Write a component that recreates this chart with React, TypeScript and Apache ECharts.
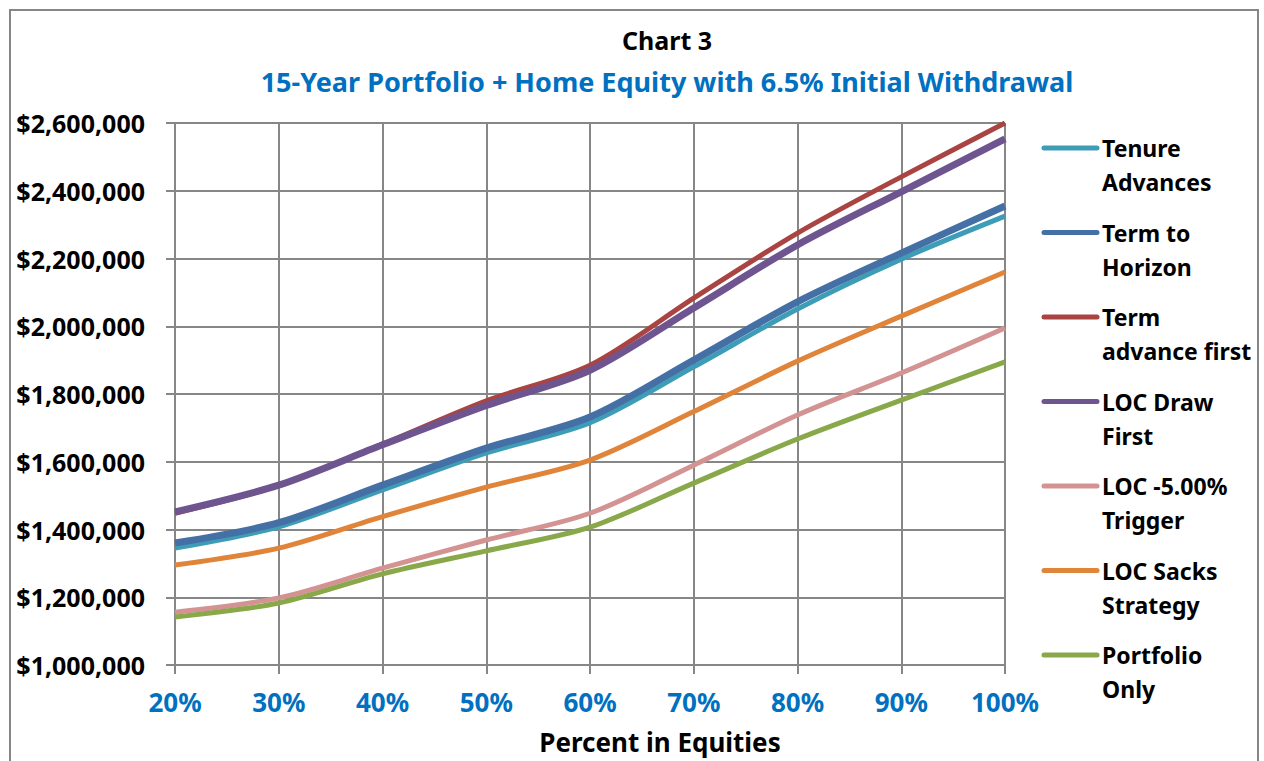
import React, { useEffect, useRef } from "react";
import * as echarts from "echarts";

const categories = ["20%", "30%", "40%", "50%", "60%", "70%", "80%", "90%", "100%"];
const yTicks = [1000000, 2600000, 200000];

const tenureAdvances = [1345000, 1408000, 1517000, 1626000, 1715000, 1880000, 2051000, 2198000, 2325000];
const termToHorizon = [1360000, 1420000, 1531000, 1640000, 1732000, 1900000, 2072000, 2216000, 2355000];
const termAdvanceFirst = [1448000, 1530000, 1652000, 1780000, 1885000, 2083000, 2275000, 2441000, 2600000];
const locDrawFirst = [1452000, 1531000, 1650000, 1766000, 1870000, 2054000, 2240000, 2397000, 2553000];
const locTrigger = [1156000, 1198000, 1286000, 1369000, 1448000, 1590000, 1738000, 1862000, 1995000];
const locSacks = [1295000, 1345000, 1438000, 1525000, 1605000, 1748000, 1897000, 2030000, 2160000];
const portfolioOnly = [1142000, 1183000, 1269000, 1337000, 1407000, 1537000, 1667000, 1782000, 1895000];

const seriesNames = [
  "Tenure\nAdvances",
  "Term to\nHorizon",
  "Term\nadvance first",
  "LOC Draw\nFirst",
  "LOC -5.00%\nTrigger",
  "LOC Sacks\nStrategy",
  "Portfolio\nOnly",
];
const seriesData = [tenureAdvances, termToHorizon, termAdvanceFirst, locDrawFirst, locTrigger, locSacks, portfolioOnly];
const seriesColors = ["#3E9DB6", "#4470A6", "#A94442", "#6F5590", "#D49393", "#E0843A", "#88A84A"];
const seriesWidths = [5, 7, 5, 7, 5, 5, 5];

const FONT = "Noto Sans";

export default function App() {
  const ref = useRef<HTMLDivElement>(null);
  useEffect(() => {
    if (!ref.current) return;
    const chart = echarts.init(ref.current, undefined, { renderer: "svg" });
    const legendGraphics: any[] = [];
    seriesNames.forEach((name, i) => {
      const y0 = 148 + i * 84.5;
      legendGraphics.push({
        type: "line",
        shape: { x1: 1044, y1: y0, x2: 1097, y2: y0 },
        style: { stroke: seriesColors[i], lineWidth: 5, lineCap: "round" },
      });
      const lines = name.split("\n");
      lines.forEach((t, j) => {
        legendGraphics.push({
          type: "text",
          x: 1102,
          y: y0 + j * 34,
          style: {
            text: t,
            fill: "#000",
            font: `bold 23px '${FONT}'`,
            textVerticalAlign: "middle",
            textAlign: "left",
          },
        });
      });
    });
    chart.setOption({
      animation: false,
      backgroundColor: "#fff",
      title: {
        text: "Chart 3",
        subtext: "15-Year Portfolio + Home Equity with 6.5% Initial Withdrawal",
        left: 662,
        textAlign: "center",
        top: 22,
        itemGap: 16,
        textStyle: { fontFamily: FONT, fontWeight: "bold", fontSize: 25, color: "#000" },
        subtextStyle: { fontFamily: FONT, fontWeight: "bold", fontSize: 27, color: "#0070C0" },
      },
      grid: { left: 175, right: 259, top: 123, bottom: 96, containLabel: false },
      xAxis: {
        type: "category",
        data: categories,
        boundaryGap: false,
        name: "Percent in Equities",
        nameLocation: "middle",
        nameGap: 64,
        nameTextStyle: {
          fontFamily: FONT,
          fontWeight: "bold",
          fontSize: 26,
          color: "#000",
          padding: [0, 0, 0, 140],
        },
        axisLine: { lineStyle: { color: "#878787", width: 2 } },
        axisTick: { show: true, length: 9, alignWithLabel: true, lineStyle: { color: "#878787", width: 2 } },
        splitLine: { show: true, lineStyle: { color: "#878787", width: 2 } },
        axisLabel: { margin: 24, fontFamily: FONT, fontWeight: "bold", fontSize: 26, color: "#0070C0" },
      },
      yAxis: {
        type: "value",
        min: yTicks[0],
        max: yTicks[1],
        interval: yTicks[2],
        axisLine: { show: true, lineStyle: { color: "#878787", width: 2 } },
        axisTick: { show: true, length: 9, lineStyle: { color: "#878787", width: 2 } },
        splitLine: { show: true, lineStyle: { color: "#878787", width: 2 } },
        axisLabel: {
          margin: 30,
          fontFamily: FONT,
          fontWeight: "bold",
          fontSize: 25,
          color: "#000",
          formatter: (v: number) => "$" + v.toLocaleString("en-US"),
        },
      },
      series: seriesNames.map((name, i) => ({
        name: name.replace("\n", " "),
        type: "line",
        data: seriesData[i],
        smooth: 0.3,
        symbol: "none",
        lineStyle: { color: seriesColors[i], width: seriesWidths[i] },
        itemStyle: { color: seriesColors[i] },
      })),
      graphic: [
        {
          type: "rect",
          shape: { x: 10, y: 10, width: 1248, height: 800 },
          style: { fill: "none", stroke: "#878787", lineWidth: 2 },
          silent: true,
        },
        ...legendGraphics,
      ],
    });
    return () => chart.dispose();
  }, []);
  return (
    <div
      ref={ref}
      style={{ position: "fixed", left: 0, top: 0, width: 1264, height: 761, background: "#fff" }}
    />
  );
}
